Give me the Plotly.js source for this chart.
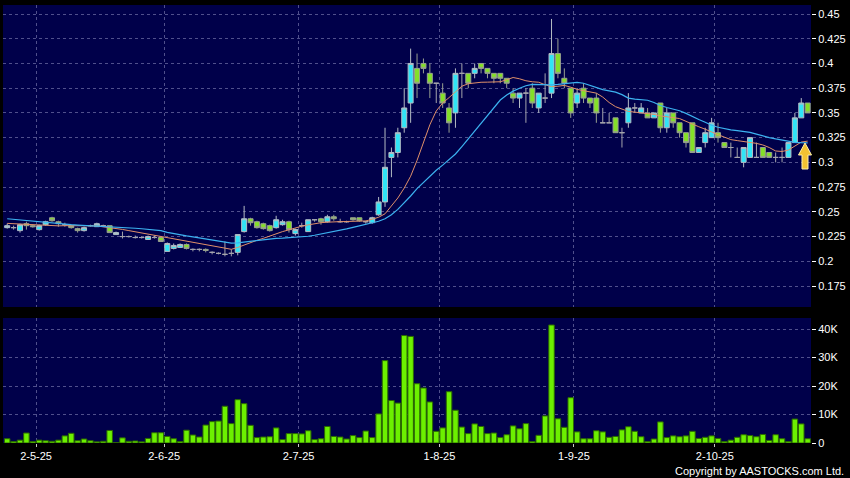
<!DOCTYPE html>
<html><head><meta charset="utf-8">
<script src="https://cdn.plot.ly/plotly-3.0.1.min.js"></script>
<style>html,body{margin:0;padding:0;background:#000;}#chart{width:850px;height:478px;}</style>
</head><body><div id="chart"></div>
<script>
// ---- data ----
const dates = [
'2025-04-24','2025-04-25','2025-04-28','2025-04-29','2025-04-30',
'2025-05-02','2025-05-06','2025-05-07','2025-05-08','2025-05-09','2025-05-12','2025-05-13','2025-05-14','2025-05-15','2025-05-16',
'2025-05-19','2025-05-20','2025-05-21','2025-05-22','2025-05-23','2025-05-26','2025-05-27','2025-05-28','2025-05-29','2025-05-30',
'2025-06-02','2025-06-03','2025-06-04','2025-06-05','2025-06-06','2025-06-09','2025-06-10','2025-06-11','2025-06-12','2025-06-13',
'2025-06-16','2025-06-17','2025-06-18','2025-06-19','2025-06-20','2025-06-23','2025-06-24','2025-06-25','2025-06-26','2025-06-27','2025-06-30',
'2025-07-02','2025-07-03','2025-07-04','2025-07-07','2025-07-08','2025-07-09','2025-07-10','2025-07-11','2025-07-14','2025-07-15','2025-07-16','2025-07-17','2025-07-18',
'2025-07-21','2025-07-22','2025-07-23','2025-07-24','2025-07-25','2025-07-28','2025-07-29','2025-07-30','2025-07-31',
'2025-08-01','2025-08-04','2025-08-05','2025-08-06','2025-08-07','2025-08-08','2025-08-11','2025-08-12','2025-08-13','2025-08-14','2025-08-15',
'2025-08-18','2025-08-19','2025-08-20','2025-08-21','2025-08-22','2025-08-25','2025-08-26','2025-08-27','2025-08-28','2025-08-29',
'2025-09-01','2025-09-02','2025-09-03','2025-09-04','2025-09-05','2025-09-08','2025-09-09','2025-09-10','2025-09-11','2025-09-12',
'2025-09-15','2025-09-16','2025-09-17','2025-09-18','2025-09-19','2025-09-22','2025-09-23','2025-09-24','2025-09-25','2025-09-26','2025-09-29','2025-09-30',
'2025-10-02','2025-10-03','2025-10-06','2025-10-08','2025-10-09','2025-10-10','2025-10-13','2025-10-14','2025-10-15','2025-10-16','2025-10-17',
'2025-10-20','2025-10-21','2025-10-22','2025-10-23'
];
const open = [
0.234,0.234,0.231,0.238,0.236,0.232,0.237,0.244,0.240,0.237,
0.236,0.233,0.231,0.236,0.235,0.236,0.236,0.227,0.225,0.225,
0.224,0.224,0.222,0.224,0.224,0.210,0.213,0.214,0.217,0.212,
0.212,0.212,0.209,0.208,0.207,0.208,0.209,0.230,0.243,0.240,
0.238,0.236,0.234,0.237,0.240,0.228,0.236,0.230,0.242,0.243,
0.240,0.245,0.240,0.240,0.244,0.244,0.240,0.239,0.247,0.260,
0.305,0.310,0.335,0.360,0.395,0.400,0.390,0.380,0.370,0.355,
0.350,0.390,0.390,0.390,0.400,0.395,0.390,0.390,0.385,0.370,
0.365,0.370,0.375,0.355,0.365,0.370,0.410,0.385,0.375,0.360,
0.375,0.365,0.365,0.340,0.340,0.345,0.330,0.340,0.355,0.350,
0.350,0.345,0.360,0.335,0.350,0.340,0.330,0.340,0.310,0.320,
0.325,0.330,0.320,0.315,0.305,0.300,0.305,0.305,0.315,0.310,
0.305,0.305,0.305,0.320,0.345,0.360
];
const high = [
0.238,0.236,0.238,0.240,0.237,0.237,0.241,0.245,0.241,0.239,
0.237,0.234,0.235,0.237,0.239,0.237,0.236,0.230,0.230,0.226,
0.226,0.225,0.226,0.226,0.224,0.219,0.218,0.218,0.218,0.213,
0.213,0.213,0.210,0.209,0.220,0.212,0.227,0.256,0.244,0.241,
0.239,0.237,0.246,0.242,0.241,0.233,0.239,0.242,0.242,0.244,
0.247,0.247,0.243,0.241,0.244,0.244,0.241,0.245,0.265,0.335,
0.315,0.335,0.375,0.415,0.410,0.405,0.400,0.380,0.380,0.360,
0.395,0.400,0.390,0.400,0.400,0.395,0.390,0.390,0.385,0.375,
0.370,0.375,0.380,0.370,0.390,0.445,0.425,0.395,0.375,0.375,
0.380,0.365,0.370,0.355,0.350,0.345,0.335,0.370,0.360,0.360,
0.355,0.350,0.360,0.355,0.350,0.340,0.330,0.340,0.315,0.335,
0.345,0.340,0.320,0.320,0.315,0.315,0.325,0.320,0.315,0.310,
0.310,0.315,0.320,0.350,0.365,0.360
];
const low = [
0.233,0.232,0.229,0.232,0.234,0.231,0.236,0.240,0.235,0.235,
0.233,0.229,0.230,0.235,0.235,0.235,0.229,0.227,0.223,0.224,
0.223,0.223,0.222,0.223,0.220,0.210,0.212,0.214,0.212,0.210,
0.210,0.209,0.207,0.207,0.205,0.205,0.206,0.229,0.236,0.233,
0.232,0.230,0.233,0.236,0.229,0.226,0.234,0.230,0.240,0.237,
0.239,0.241,0.239,0.239,0.241,0.240,0.238,0.238,0.246,0.255,
0.285,0.305,0.330,0.340,0.365,0.390,0.365,0.360,0.355,0.330,
0.335,0.365,0.375,0.385,0.390,0.385,0.380,0.380,0.375,0.360,
0.355,0.340,0.355,0.350,0.360,0.365,0.385,0.375,0.345,0.355,
0.360,0.355,0.340,0.340,0.340,0.330,0.315,0.335,0.350,0.350,
0.345,0.345,0.330,0.330,0.335,0.325,0.315,0.310,0.310,0.315,
0.325,0.320,0.315,0.305,0.305,0.295,0.305,0.305,0.305,0.305,
0.300,0.300,0.305,0.320,0.345,0.350
];
const close = [
0.236,0.234,0.237,0.236,0.235,0.236,0.240,0.241,0.238,0.237,
0.234,0.231,0.234,0.236,0.238,0.236,0.229,0.229,0.225,0.225,
0.224,0.224,0.225,0.224,0.220,0.218,0.216,0.217,0.213,0.212,
0.212,0.211,0.209,0.208,0.207,0.208,0.227,0.243,0.239,0.234,
0.233,0.231,0.242,0.240,0.232,0.232,0.236,0.242,0.242,0.240,
0.245,0.243,0.240,0.240,0.242,0.241,0.240,0.244,0.260,0.295,
0.310,0.330,0.355,0.400,0.380,0.395,0.380,0.380,0.360,0.340,
0.390,0.390,0.380,0.395,0.395,0.390,0.385,0.385,0.380,0.365,
0.370,0.370,0.360,0.370,0.365,0.410,0.390,0.380,0.350,0.370,
0.365,0.360,0.350,0.340,0.340,0.330,0.330,0.355,0.355,0.355,
0.345,0.350,0.335,0.350,0.340,0.330,0.320,0.310,0.315,0.330,
0.340,0.325,0.315,0.315,0.305,0.315,0.325,0.305,0.305,0.305,
0.305,0.305,0.320,0.345,0.360,0.350
];
const volume = [
1500,500,1000,3500,500,1000,800,600,1000,2500,
3400,800,1400,800,400,600,4400,100,1800,600,
700,400,1600,3600,3600,2300,1500,500,4500,2800,
2100,6300,7500,7700,12900,6800,15200,13800,6200,1900,
2100,2200,5300,1200,3300,3300,3200,4300,1200,1500,
5800,2300,2100,1400,2600,1900,4200,1900,10200,28900,
14900,14000,37700,37400,20800,19300,14400,4100,5300,18000,
11500,5600,3300,6700,5800,3300,3500,1900,2900,6000,
5000,6800,500,2700,9500,41400,8500,5500,15900,3900,
1500,1500,4300,3900,2000,2300,4600,5700,4100,2200,
500,1400,7400,1900,2500,2200,2500,4100,1600,2000,
2500,1600,500,1000,2000,2900,2600,2200,3000,900,
2900,1500,500,8400,6700,1500
];
const ma10 = [
0.2383,0.2380,0.2376,0.2372,0.2368,0.2363,0.2358,0.2357,0.2358,0.2360,
0.2361,0.2361,0.2360,0.2359,0.2357,0.2350,0.2342,0.2333,0.2322,0.2310,
0.2298,0.2285,0.2273,0.2260,0.2249,0.2237,0.2224,0.2212,0.2200,0.2188,
0.2176,0.2164,0.2152,0.2140,0.2128,0.2121,0.2140,0.2165,0.2190,0.2212,
0.2232,0.2255,0.2280,0.2300,0.2318,0.2340,0.2355,0.2368,0.2380,0.2390,
0.2395,0.2400,0.2401,0.2402,0.2403,0.2404,0.2408,0.2425,0.2445,0.2480,
0.2560,0.2640,0.2740,0.2860,0.3020,0.3200,0.3380,0.3520,0.3600,0.3655,
0.3710,0.3770,0.3795,0.3805,0.3810,0.3811,0.3812,0.3815,0.3835,0.3858,
0.3845,0.3825,0.3815,0.3810,0.3785,0.3765,0.3770,0.3778,0.3760,0.3738,
0.3725,0.3715,0.3700,0.3660,0.3605,0.3563,0.3535,0.3515,0.3508,0.3502,
0.3496,0.3485,0.3470,0.3460,0.3452,0.3443,0.3415,0.3385,0.3360,0.3335,
0.3305,0.3280,0.3255,0.3230,0.3220,0.3212,0.3205,0.3192,0.3176,0.3150,
0.3115,0.3110,0.3125,0.3165,0.3205,0.3215
];
const ma20 = [
0.2430,0.2424,0.2418,0.2410,0.2402,0.2395,0.2388,0.2382,0.2378,0.2374,
0.2370,0.2366,0.2363,0.2360,0.2358,0.2356,0.2353,0.2349,0.2344,0.2339,
0.2334,0.2329,0.2324,0.2319,0.2310,0.2292,0.2278,0.2266,0.2256,0.2246,
0.2236,0.2225,0.2214,0.2203,0.2193,0.2184,0.2186,0.2194,0.2203,0.2212,
0.2221,0.2228,0.2232,0.2235,0.2238,0.2240,0.2244,0.2253,0.2263,0.2275,
0.2287,0.2299,0.2313,0.2328,0.2343,0.2357,0.2370,0.2385,0.2405,0.2430,
0.2470,0.2525,0.2590,0.2660,0.2735,0.2800,0.2862,0.2920,0.2972,0.3025,
0.3085,0.3160,0.3240,0.3320,0.3400,0.3480,0.3560,0.3630,0.3680,0.3720,
0.3750,0.3775,0.3788,0.3786,0.3783,0.3784,0.3788,0.3793,0.3800,0.3808,
0.3800,0.3780,0.3752,0.3735,0.3722,0.3710,0.3685,0.3650,0.3640,0.3635,
0.3628,0.3605,0.3575,0.3555,0.3540,0.3522,0.3495,0.3462,0.3433,0.3405,
0.3375,0.3355,0.3340,0.3328,0.3320,0.3313,0.3303,0.3285,0.3265,0.3250,
0.3237,0.3225,0.3213,0.3203,0.3199,0.3198
];
const priceTicks = [0.175,0.2,0.225,0.25,0.275,0.3,0.325,0.35,0.375,0.4,0.425,0.45];
const volTicks = [0,10000,20000,30000,40000];
const volTickText = ['0','10K','20K','30K','40K'];

// ---- derived ----
const idx = dates.map((d,i)=>i);
const isDoji = open.map((o,i)=>o===close[i]);
const pick = (arr,want)=>arr.filter((v,i)=>isDoji[i]===want);
const monthTickVals = [], monthTickText = [];
dates.forEach((d,i)=>{
  if(i>0 && d.slice(5,7)!==dates[i-1].slice(5,7)){
    const [y,m,dd]=d.split('-');
    monthTickVals.push(i-0.5);
    monthTickText.push(parseInt(dd,10)+'-'+parseInt(m,10)+'-'+y.slice(2));
  }
});

const GRID='#50508c';
const xRange=[-0.656,125.52];

const traces = [
 {type:'candlestick', x:pick(idx,false), open:pick(open,false), high:pick(high,false), low:pick(low,false), close:pick(close,false),
  xaxis:'x', yaxis:'y', whiskerwidth:0, hoverinfo:'skip', showlegend:false,
  increasing:{line:{color:'#b4bcc4',width:1}, fillcolor:'#30e4f6'},
  decreasing:{line:{color:'#98a090',width:1}, fillcolor:'#84e028'}},
 {type:'candlestick', x:pick(idx,true), open:pick(open,true), high:pick(high,true), low:pick(low,true), close:pick(close,true),
  xaxis:'x', yaxis:'y', whiskerwidth:0, hoverinfo:'skip', showlegend:false,
  increasing:{line:{color:'#a4a4ac',width:1}, fillcolor:'#a4a4ac'},
  decreasing:{line:{color:'#a4a4ac',width:1}, fillcolor:'#a4a4ac'}},
 {type:'scatter', mode:'lines', x:idx, y:ma10, xaxis:'x', yaxis:'y', line:{color:'#e0906a',width:1}, hoverinfo:'skip'},
 {type:'scatter', mode:'lines', x:idx, y:ma20, xaxis:'x', yaxis:'y', line:{color:'#3cb2f0',width:1.2}, hoverinfo:'skip'},
 {type:'bar', x:idx, y:volume, xaxis:'x2', yaxis:'y2', marker:{color:'#6cf000', line:{color:'#2c6a00',width:1}}, hoverinfo:'skip'}
];

// pixel -> paper helper for the decorative arrow
const L=3, R=811, T=5, B=443;
const px=(x)=>(x-L)/(R-L), py=(y)=>(B-y)/(B-T);
const arrowPts=[[805,143],[811.5,155],[808,155],[808,169],[802,169],[802,155],[798.5,155]];
const arrowPath='M '+arrowPts.map(p=>px(p[0]).toFixed(5)+','+py(p[1]).toFixed(5)).join(' L ')+' Z';

const axisFont={family:'Liberation Sans, Arial, sans-serif', size:11, color:'#ffffff'};
const layout = {
 width:850, height:478,
 paper_bgcolor:'#000000', plot_bgcolor:'#00004a',
 margin:{l:L, r:850-R, t:T, b:478-B},
 showlegend:false,
 font:axisFont,
 boxgap:0.22, boxgroupgap:0, bargap:0.14,
 xaxis:{domain:[0,1], anchor:'y', range:xRange, rangeslider:{visible:false},
   tickvals:monthTickVals, showticklabels:false, ticks:'',
   showgrid:true, gridcolor:GRID, griddash:'3px,3px', gridwidth:1, zeroline:false, showline:false},
 xaxis2:{domain:[0,1], anchor:'y2', range:xRange,
   tickvals:monthTickVals, ticktext:monthTickText, ticks:'outside', ticklen:3, tickcolor:'#c8c8c8', tickfont:axisFont,
   showgrid:true, gridcolor:GRID, griddash:'3px,3px', gridwidth:1, zeroline:false, showline:false},
 yaxis:{domain:[(B-307)/(B-T),1], anchor:'x', side:'right', range:[0.15377,0.45910],
   tickvals:priceTicks, ticktext:priceTicks.map(String), ticks:'outside', ticklen:4, tickcolor:'#ffffff', tickfont:axisFont,
   showgrid:true, gridcolor:GRID, griddash:'3px,3px', gridwidth:1, zeroline:false, showline:false},
 yaxis2:{domain:[0,(B-318)/(B-T)], anchor:'x2', side:'right', range:[0,43860],
   tickvals:volTicks, ticktext:volTickText, ticks:'outside', ticklen:4, tickcolor:'#ffffff', tickfont:axisFont,
   showgrid:true, gridcolor:GRID, griddash:'3px,3px', gridwidth:1, zeroline:false, showline:false},
 shapes:[{type:'path', xref:'paper', yref:'paper', path:arrowPath, fillcolor:'#f2c232', line:{color:'#fff1a8',width:1}, layer:'above'}],
 annotations:[{xref:'paper', yref:'paper', x:px(846), y:py(471), xanchor:'right', yanchor:'middle', showarrow:false,
   text:'Copyright by AASTOCKS.com Ltd.', font:{family:'Liberation Sans, Arial, sans-serif', size:11, color:'#ffffff'}}]
};
Plotly.newPlot('chart', traces, layout, {staticPlot:true, displayModeBar:false});
</script>
</body></html>
